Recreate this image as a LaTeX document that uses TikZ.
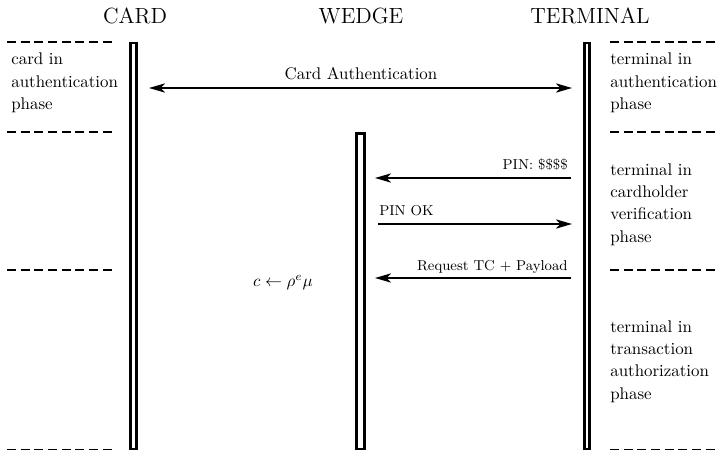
\documentclass[tikz,border=0pt]{standalone}
\usetikzlibrary{arrows.meta}
\begin{document}
\begin{tikzpicture}[x=0.5917pt,y=-0.5917pt,
  title/.style={font=\fontsize{13}{15}\selectfont, inner sep=0pt},
  phase/.style={font=\fontsize{10}{13.3}\selectfont, align=left, anchor=west, inner sep=0pt},
  msg/.style={font=\fontsize{8.5}{10}\selectfont, inner sep=0pt},
  lifebar/.style={draw=black, line width=1.5pt, fill=white},
  sep/.style={line width=0.8pt, dash pattern=on 5.3pt off 2.8pt},
  arr/.style={line width=0.8pt, -{Stealth[length=9.5pt,width=5.5pt,inset=2.5pt]}},
  darr/.style={line width=0.8pt, {Stealth[length=9.5pt,width=5.5pt,inset=2.5pt]}-{Stealth[length=9.5pt,width=5.5pt,inset=2.5pt]}}]
\useasboundingbox (0,0) rectangle (721,451);

% titles
\node[title] (tcard) at (135,16) {CARD};
\node[title] (twedge) at (361,16) {WEDGE};
\node[title] (tterm) at (590,16) {TERMINAL};

% lifelines
\draw[lifebar] (130.3,42.8) rectangle (136.7,449);
\draw[lifebar] (356.3,133.3) rectangle (364.7,449);
\draw[lifebar] (584.3,42.8) rectangle (589.7,449);

% separators
\foreach \yy in {42,132,270,449.5}{
  \draw[sep] (7,\yy) -- (112,\yy);
  \draw[sep] (610,\yy) -- (715,\yy);
}

% phase texts
\node[phase] (pcard) at (11,83) {card in\\authentication\\phase};
\node[phase] (pauth) at (610,83) {terminal in\\authentication\\phase};
\node[phase] (pver) at (610,204.5) {terminal in\\cardholder\\verification\\phase};
\node[phase] (ptrans) at (610,361.5) {terminal in\\transaction\\authorization\\phase};

% message endpoints
\coordinate (ca1) at (149,88);
\coordinate (ca2) at (572,88);
\coordinate (p1a) at (571,178);
\coordinate (p1b) at (375,178);
\coordinate (p2a) at (378,224);
\coordinate (p2b) at (572,224);
\coordinate (p3a) at (571,278);
\coordinate (p3b) at (375,278);

\draw[darr] (ca1) -- (ca2);
\node[font=\fontsize{10}{12}\selectfont, inner sep=0pt] (lca) at (361,74) {Card Authentication};

\draw[arr] (p1a) -- (p1b);
\node[msg, anchor=east] (l1) at (568,165) {PIN: \$\$\$\$};

\draw[arr] (p2a) -- (p2b);
\node[msg, anchor=west] (l2) at (379,211) {PIN OK};

\draw[arr] (p3a) -- (p3b);
\node[msg, anchor=east] (l3) at (568,267) {Request TC + Payload};

\node[font=\fontsize{10}{12}\selectfont, inner sep=0pt] (calc) at (283,283) {$c \leftarrow \rho^{e}\mu$};
\end{tikzpicture}
\end{document}
